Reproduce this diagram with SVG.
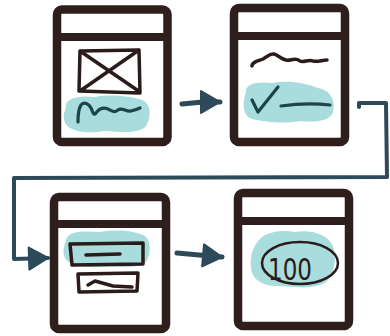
<svg xmlns="http://www.w3.org/2000/svg" width="390" height="336" viewBox="0 0 390 336">
<defs>
<style>
.frame{fill:#fff;stroke:#2e1f1d;stroke-width:8.5;stroke-linejoin:round}
.hdr{stroke:#2e1f1d;stroke-width:8;fill:none}
.blob{fill:#a9dcdc;stroke:none}
.ink{fill:none;stroke:#2a1c1a;stroke-width:3.5;stroke-linecap:round;stroke-linejoin:round}
.tink{fill:none;stroke:#1c4547;stroke-width:3.2;stroke-linecap:round;stroke-linejoin:round}
.conn{fill:none;stroke:#2d4a5a;stroke-linecap:round;stroke-linejoin:round}
</style>
<marker id="head" markerUnits="userSpaceOnUse" viewBox="-2 -14 24 28" refX="19" refY="0" markerWidth="24" markerHeight="28" orient="auto">
<path d="M0,-11 L19,0 L0,11 Z" fill="#2d4a5a" stroke="#2d4a5a" stroke-width="2" stroke-linejoin="round"/>
</marker>
</defs>

<g id="connectors">
<path class="conn" stroke-width="5" d="M182,104 L203,102 L220,102" marker-end="url(#head)"/>
<path class="conn" stroke-width="4" d="M359,107 L359,103 L386,103 L387,177 L14,178 L14,259 L48,258" marker-end="url(#head)"/>
<path class="conn" stroke-width="5" d="M177,253 L199,255 L222,257" marker-end="url(#head)"/>
</g>

<g id="screen1">
<rect class="frame" x="57" y="9.5" width="110.5" height="132.5" rx="5"/>
<line class="hdr" x1="57" y1="37" x2="167.5" y2="37"/>
<path class="ink" d="M80,51 L139,50 L140,93 L79,91 Z M80,51 L140,92 M139,50 L80,91"/>
<path class="blob" d="M66,108 C64,98 80,95 95,97 C110,94 130,96 142,100 C152,104 151,118 146,126 C140,134 120,132 105,131 C90,134 70,132 66,124 C62,118 64,112 66,108 Z"/>
<path class="tink" d="M78,122 C78,115 79,108 81,105 C84,101 89,104 91,108 C93,112 93,116 96,113 C99,109 103,107 108,109 C112,111 114,113 118,110 C122,107 126,112 131,111 C135,110 138,109 140,108"/>
</g>

<g id="screen2">
<rect class="frame" x="234" y="8" width="111" height="134" rx="5"/>
<line class="hdr" x1="234" y1="36" x2="345" y2="36"/>
<path class="ink" d="M252,66 C252,62 258,61 263,59 C267,57 270,53 274,54 C278,55 281,59 286,60 C291,61 295,57 300,61 C304,63 308,59 313,61 C318,62 322,60 327,60"/>
<path class="blob" d="M246,92 C244,84 258,81 272,83 C290,80 305,83 318,88 C330,90 336,100 333,112 C331,120 318,123 300,121 C285,124 265,122 252,119 C243,116 242,104 246,92 Z"/>
<path class="tink" d="M252,100 L258,112 L278,87 M281,106 C295,104 312,103 330,105"/>
</g>

<g id="screen3">
<rect class="frame" x="54" y="197" width="112" height="132" rx="5"/>
<line class="hdr" x1="54" y1="224" x2="166" y2="224"/>
<path class="blob" d="M66,240 C68,230 85,231 100,232 C118,229 135,231 145,236 C152,242 151,258 144,264 C133,269 115,266 100,267 C84,268 68,265 65,258 C62,252 64,246 66,240 Z"/>
<path class="ink" d="M70,244 L143,243 L143,264 L72,265 Z M86,255 L120,254"/>
<path class="ink" d="M78,274 L138,273 L137,291 L79,292 Z M88,285 L95,281 L113,286 L132,287"/>
</g>

<g id="screen4">
<rect class="frame" x="238" y="193" width="111" height="133" rx="5"/>
<line class="hdr" x1="238" y1="221" x2="349" y2="221"/>
<path class="blob" d="M256,244 C262,232 280,229 295,232 C310,229 328,234 333,246 C337,258 335,274 326,282 C314,290 295,287 280,286 C264,287 252,280 251,268 C250,258 252,250 256,244 Z"/>
<ellipse cx="300" cy="263" rx="38" ry="21" fill="none" stroke="#2a1c1a" stroke-width="2.5"/>
<text x="290" y="280" font-family="DejaVu Sans, sans-serif" font-size="30" fill="#2a1c1a" text-anchor="middle" textLength="44" lengthAdjust="spacingAndGlyphs">100</text>
</g>
</svg>
